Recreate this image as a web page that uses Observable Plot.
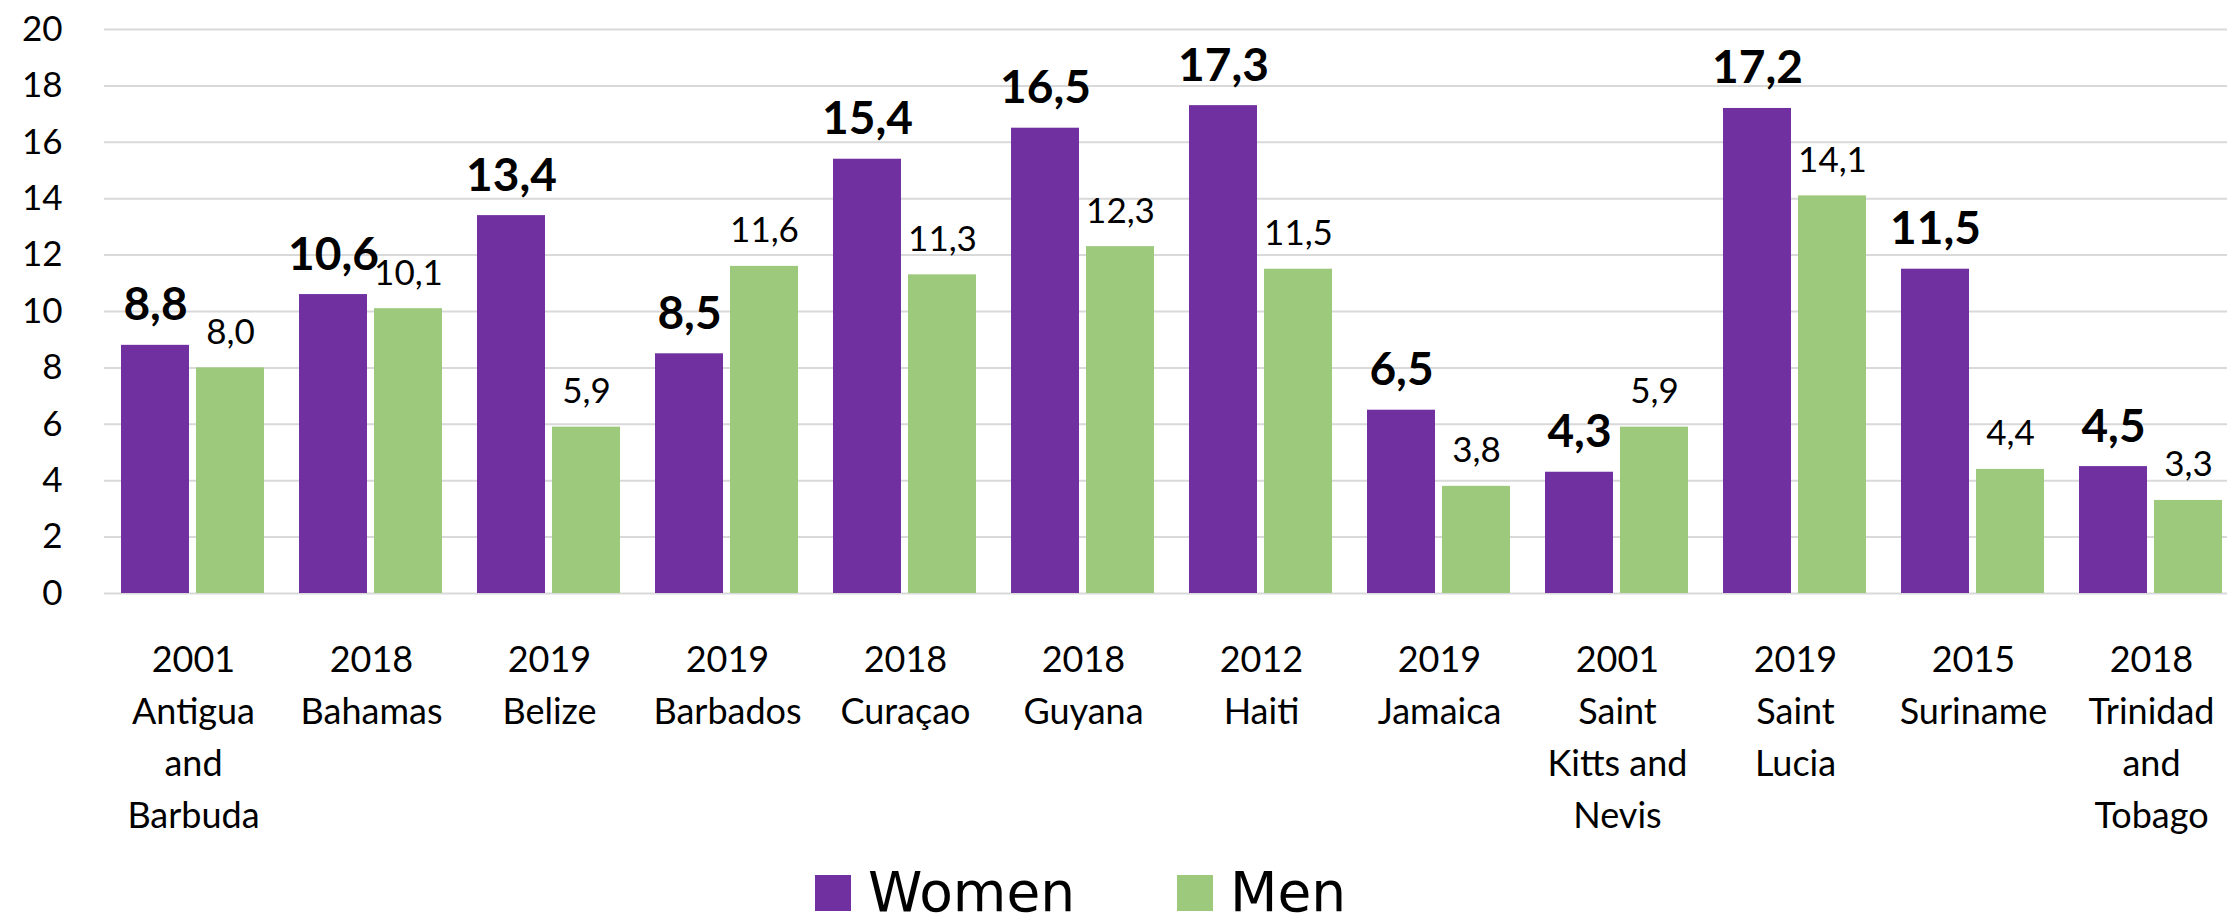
<!DOCTYPE html>
<html>
<head>
<meta charset="utf-8">
<script src="https://cdn.jsdelivr.net/npm/d3@7"></script>
<script src="https://cdn.jsdelivr.net/npm/@observablehq/plot@0.6"></script>
<style>
  html, body { margin: 0; padding: 0; background: #fff; overflow: hidden; width: 2227px; height: 914px; }
  #chart { position: absolute; left: 0; top: 0; width: 2227px; height: 870px; overflow: hidden; }
  #chart svg { max-width: none !important; width: 2245px; height: 870px; }
  .legend-item { position: absolute; top: 864.5px; font-family: "DejaVu Sans"; font-size: 55px; line-height: 55px; white-space: nowrap; color: #000; }
  .sw { display: inline-block; width: 36px; height: 36px; margin-right: 17px; vertical-align: baseline; }
</style>
</head>
<body>
<div id="chart"></div>
<div id="legend"></div>
<script>
const categories = [
  "2001\nAntigua\nand\nBarbuda",
  "2018\nBahamas",
  "2019\nBelize",
  "2019\nBarbados",
  "2018\nCuraçao",
  "2018\nGuyana",
  "2012\nHaiti",
  "2019\nJamaica",
  "2001\nSaint\nKitts and\nNevis",
  "2019\nSaint\nLucia",
  "2015\nSuriname",
  "2018\nTrinidad\nand\nTobago"
];
const women = [8.8, 10.6, 13.4, 8.5, 15.4, 16.5, 17.3, 6.5, 4.3, 17.2, 11.5, 4.5];
const men   = [8.0, 10.1, 5.9, 11.6, 11.3, 12.3, 11.5, 3.8, 5.9, 14.1, 4.4, 3.3];
const seriesNames = ["Women", "Men"];
const seriesColors = ["#7030a0", "#9cc97c"];
const yTicks = [0, 2, 4, 6, 8, 10, 12, 14, 16, 18, 20];

const rows = categories.flatMap((c, i) => [
  {cat: c, series: "Women", value: women[i]},
  {cat: c, series: "Men", value: men[i]}
]);
const fmt = v => v.toFixed(1).replace(".", ",");

const chart = Plot.plot({
  width: 2245,
  height: 870,
  marginLeft: 99,
  marginRight: 0,
  marginTop: 29,
  marginBottom: 277,
  style: {fontFamily: "Lato", fontSize: "36px", color: "#000", background: "#fff", overflow: "visible", maxWidth: "none"},
  fx: {domain: categories, padding: 0, label: null},
  x: {domain: seriesNames, paddingInner: 0.0921, paddingOuter: 0.2237, axis: null},
  y: {domain: [0, 20], label: null},
  color: {domain: seriesNames, range: seriesColors},
  marks: [
    Plot.gridY(yTicks, {stroke: "#d9d9d9", strokeOpacity: 1, strokeWidth: 2}),
    Plot.barY(rows, {fx: "cat", x: "series", y: "value", fill: "series"}),
    Plot.text(rows.filter(d => d.series === "Women"), {
      fx: "cat", x: "series", y: "value", text: d => fmt(d.value),
      lineAnchor: "bottom", dy: -25, fontWeight: "bold", fontSize: 46, fill: "#000"
    }),
    Plot.text(rows.filter(d => d.series === "Men"), {
      fx: "cat", x: "series", y: "value", text: d => fmt(d.value),
      lineAnchor: "bottom", dy: -24, fontSize: 35, fill: "#000"
    }),
    Plot.axisY(yTicks, {tickSize: 0, tickPadding: 42, fontSize: 35, label: null, fill: "#000"}),
    Plot.axisFx({anchor: "bottom", tickSize: 0, tickPadding: 42, fontSize: 36, lineHeight: 1.444, label: null, fill: "#000"})
  ]
});
document.getElementById("chart").appendChild(chart);

const legend = document.getElementById("legend");
const legendLefts = [815, 1177];
seriesNames.forEach((name, i) => {
  const item = document.createElement("div");
  item.className = "legend-item";
  item.style.left = legendLefts[i] + "px";
  const sw = document.createElement("span");
  sw.className = "sw";
  sw.style.background = seriesColors[i];
  item.appendChild(sw);
  item.appendChild(document.createTextNode(name));
  legend.appendChild(item);
});
</script>
</body>
</html>
